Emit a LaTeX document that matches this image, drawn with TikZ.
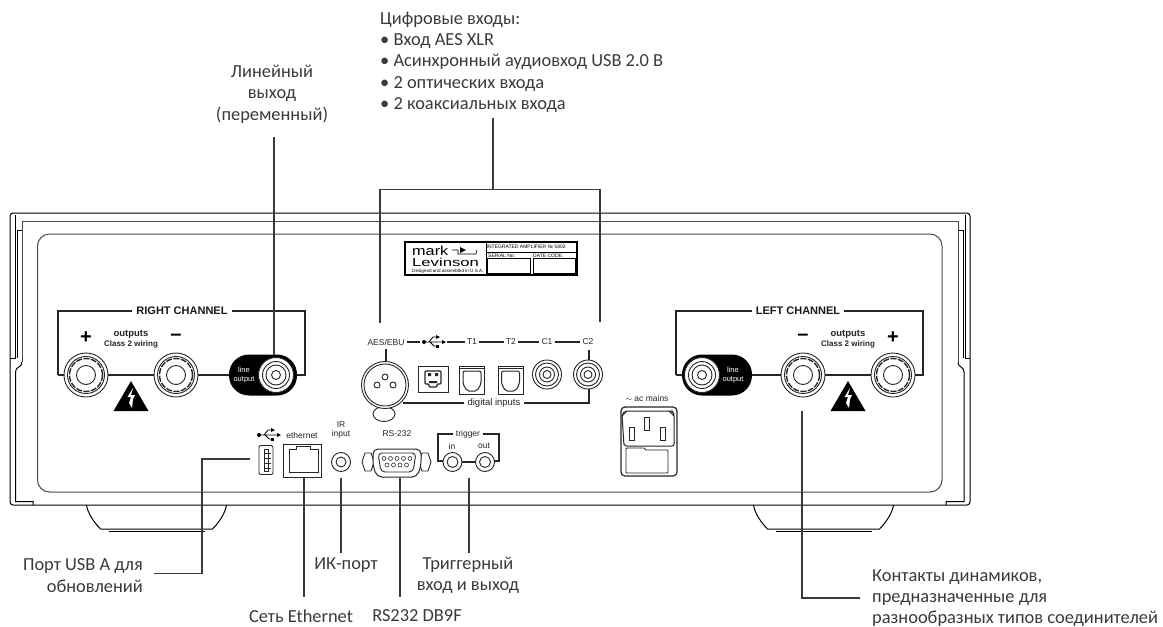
\documentclass[tikz,border=0pt]{standalone}
\usepackage{fontspec}
\setmainfont{Carlito}
\newfontfamily\panelfont{Liberation Sans}
\usetikzlibrary{arrows}
\usetikzlibrary{shapes}
\definecolor{calloutgray}{HTML}{3A3A3A}
\tikzset{
	call_t/.style = {align=center, inner sep=0pt, font=\fontsize{18.4}{21.3}\selectfont, text=calloutgray},
	call_l/.style = {call_t, align=left, anchor=west},
	call_r/.style = {call_t, align=right, anchor=east},
	call_c/.style = {draw=calloutgray, line width=1.2pt},
	body_l/.style = {draw=black, line width=1pt},
	body_g/.style = {draw=black!70, line width=1pt},
	pan_t/.style = {inner sep=0pt, align=center, font=\panelfont\fontsize{8.5}{8.5}\selectfont, text=black!85},
	pan_b/.style = {pan_t, font=\panelfont\bfseries\fontsize{11}{12}\selectfont, fill=white, inner xsep=4pt, text=black!90},
	pan_s/.style = {pan_t, font=\panelfont\bfseries\fontsize{8}{9.5}\selectfont},
	pan_w/.style = {pan_t, font=\panelfont\fontsize{7.5}{8.5}\selectfont, text=white},
	pan_f/.style = {draw=black!85, line width=1.2pt},
	sign_t/.style = {inner sep=0pt, font=\panelfont\bfseries\fontsize{20}{20}\selectfont},
	port_o/.style = {circle, draw=black!85, fill=white, line width=0.9pt, inner sep=0pt},
	port_b/.style = {rectangle, draw=black!85, fill=white, line width=0.9pt, inner sep=0pt}
}
\begin{document}
\begin{tikzpicture}[x=1pt,y=-1pt]
	\useasboundingbox (0,0) rectangle (1163,627);
	% feet
	\foreach \fx/\fs in {156.5/1,823.5/-1}{
		\draw[body_l,xshift=\fx pt,xscale=\fs] (-70,505) .. controls (-69,513) and (-62,523) .. (-56,529) -- (56,529) .. controls (62,523) and (69,513) .. (70,505);
		\draw[body_l,xshift=\fx pt,xscale=\fs] (-48,531) -- (48,531);
	}
	% chassis
	\draw[body_l,fill=white,rounded corners=3pt] (10,213) rectangle (970,505);
	\draw[body_g] (22,362) -- (22,221) -- (958,221) -- (958,362);
	\draw[body_l] (958,362) .. controls (958,368) and (964,366) .. (964,372) -- (964,501.5) -- (946,501.5) -- (946,505);
	\draw[body_l] (22,362) .. controls (22,368) and (15.5,366) .. (15.5,372) -- (15.5,501.5) -- (33,501.5) -- (33,505);
	\draw[body_l] (22,230) -- (17,230) -- (17,358);
	\draw[body_l] (958,230) -- (963,230) -- (963,358);
	\draw[body_l] (15,215) -- (15,358) -- (10,358);
	\draw[body_l] (965.5,215) -- (965.5,358) -- (970,358);
	\draw[body_g,rounded corners=12pt] (37.5,234) rectangle (942,492);
	% right channel
	\draw[pan_f] (58,375) -- (58,311) -- (305,311) -- (305,375) -- (58,375);
	\node[pan_b] (right_ch) at (182,311) {RIGHT CHANNEL};
	\node[pan_s] (out_r) at (131,339) {\fontsize{9.5}{11}\selectfont outputs\\Class 2 wiring};
	\node[sign_t] (plus_r) at (86,338) {+};
	\node[sign_t] (minus_r) at (176,337) {–};
	% left channel
	\draw[pan_f] (676,375) -- (676,311) -- (923,311) -- (923,375) -- (676,375);
	\node[pan_b] (left_ch) at (798,311) {LEFT CHANNEL};
	\node[pan_s] (out_l) at (848,339) {\fontsize{9.5}{11}\selectfont outputs\\Class 2 wiring};
	\node[sign_t] (plus_l) at (893,338) {+};
	\node[sign_t] (minus_l) at (803,337) {–};
	% binding posts
	\foreach \px/\pname in {86/post_ra,176/post_rb,803/post_la,893/post_lb}{
		\node[port_o,minimum size=44pt] (\pname) at (\px,375) {};
		\node[port_o,minimum size=37pt] at (\px,375) {};
		\node[port_o,minimum size=33pt,line width=1.4pt,dash pattern=on 6pt off 1.5pt] at (\px,375) {};
		\node[port_o,minimum size=19pt] at (\px,375) {};
	}
	% warning signs
	\foreach \wx in {131,848}{
		\fill[black] (\wx,381) -- (\wx+17.5,411) -- (\wx-17.5,411) -- cycle;
		\fill[white] (\wx+2,388) -- (\wx-3.5,397) -- (\wx,397) -- (\wx-2,403) -- (\wx+1,408) -- (\wx+2,399) -- (\wx+4,395) -- (\wx,395) -- cycle;
	}
	% line outputs
	\fill[black,rounded corners=20pt] (229,354.5) rectangle (297,395.5);
	\fill[black,rounded corners=20pt] (682,354.5) rectangle (752,395.5);
	\foreach \lx/\lname in {276/line_r,702/line_l}{
		\node[port_o,minimum size=35pt] (\lname) at (\lx,375) {};
		\node[port_o,minimum size=27pt] at (\lx,375) {};
		\node[port_o,minimum size=20pt] at (\lx,375) {};
		\node[port_o,minimum size=9pt] at (\lx,375) {};
	}
	\node[pan_w] (line_rt) at (244,375) {line\\output};
	\node[pan_w] (line_lt) at (733,375) {line\\output};
	% plate
	\draw[black,line width=1.2pt] (405,242) rectangle (577,275);
	\draw[black,line width=0.8pt] (486,242) -- (486,275) (486,252) -- (577,252);
	\draw[black,line width=0.7pt] (487,258.5) rectangle (530,273) (533,258.5) rectangle (575,273);
	\node[inner sep=0pt,anchor=west,font=\panelfont\fontsize{13}{13}\selectfont] (logo_a) at (412,251) {\scalebox{1.25}[1]{mark}};
	\node[inner sep=0pt,anchor=west,font=\panelfont\fontsize{11.5}{12}\selectfont] (logo_b) at (412,262.5) {\scalebox{1.45}[1]{Levinson}};
	\draw[black,line width=0.7pt] (452,250) -- (458,250) -- (458,254) -- (476,254) -- (477,250);
	\fill[black] (460,247) -- (466,250) -- (460,253) -- cycle;
	\node[inner sep=0pt,anchor=west,font=\panelfont\fontsize{4.6}{5}\selectfont] (logo_c) at (412,271) {Designed and assembled in U.S.A.};
	\node[inner sep=0pt,anchor=west,font=\panelfont\fontsize{5}{6}\selectfont] (plate_a) at (486.5,247) {INTEGRATED AMPLIFIER № 5802};
	\node[inner sep=0pt,anchor=west,font=\panelfont\fontsize{5}{6}\selectfont] (plate_b) at (488,255.5) {SERIAL No:};
	\node[inner sep=0pt,anchor=west,font=\panelfont\fontsize{5}{6}\selectfont] (plate_c) at (533,255.5) {DATE CODE:};
	% digital inputs
	\node[pan_t,fill=white,inner xsep=2pt] (aes_t) at (386,342) {AES/EBU};
	\node[pan_t,fill=white,inner xsep=2pt] (t1_t) at (472,342) {T1};
	\node[pan_t,fill=white,inner xsep=2pt] (t2_t) at (511,342) {T2};
	\node[pan_t,fill=white,inner xsep=2pt] (c1_t) at (547,342) {C1};
	\node[pan_t,fill=white,inner xsep=2pt] (c2_t) at (588,342) {C2};
	\coordinate (usb_l) at (420,342);
	\coordinate (usb_r) at (447,342);
	\draw[pan_f] (aes_t) -- (usb_l) (usb_r) -- (t1_t) (t1_t) -- (t2_t) (t2_t) -- (c1_t) (c1_t) -- (c2_t);
	% usb signs
	\foreach \ux/\uy in {421/342,256/435}{
		\begin{scope}[shift={(\ux,\uy)}]
			\fill[black] (3,0) circle[radius=2];
			\draw[black,line width=0.8pt] (3,0) -- (22,0) (8,0) -- (12,-5) -- (17,-5) (9,0) -- (13,4) -- (17,4);
			\fill[black] (21,-2) -- (25,0) -- (21,2) -- cycle;
			\fill[black] (15,-7) -- (19,-5) -- (15,-3) -- cycle;
			\fill[black] (15,2.5) rectangle (18,5.5);
		\end{scope}
	}
	\node[pan_t,fill=white,inner xsep=3pt] (dig_t) at (494,403) {\fontsize{9.5}{11}\selectfont digital inputs};
	\coordinate (dig_a) at (403,403);
	\coordinate (dig_b) at (589,403);
	\coordinate (dig_c) at (589,388);
	\draw[pan_f] (dig_a) -- (dig_t) -- (dig_b) -- (dig_c);
	\draw[pan_f] (386,349) -- (386,361);
	\draw[pan_f] (589,350) -- (589,360);
	\node[port_o,ellipse,minimum width=22pt,minimum height=15pt] (xlr_tab) at (384,414) {};
	\node[port_o,minimum size=47pt] (xlr) at (385,385) {};
	\node[port_o,minimum size=42pt] at (385,385) {};
	\foreach \qx/\qy in {385/377,377/385,393/385}{
		\node[port_o,minimum size=6pt] at (\qx,\qy) {};
	}
	\node[port_b,minimum width=30pt,minimum height=26pt] (usb_b) at (433,379) {};
	\draw[black!85,line width=1.1pt,rounded corners=1pt] (425,371) -- (441,371) -- (441,384) -- (437,384) -- (437,387) -- (429,387) -- (429,384) -- (425,384) -- cycle;
	\fill[black!85] (428,373) rectangle (431,376) (435,373) rectangle (438,376) (429,381) rectangle (437,383);
	\foreach \tx/\tname in {472/opt_a,510.5/opt_b}{
		\node[port_b,minimum width=25pt,minimum height=28pt] (\tname) at (\tx,380) {};
		\draw[black!85,line width=0.8pt] (\tx-12.5,368) -- (\tx+12.5,368);
		\draw[black!85,line width=1pt,rounded corners=2pt] (\tx-9,371) -- (\tx+9,371) -- (\tx+9,384) -- (\tx+5,391) -- (\tx-5,391) -- (\tx-9,384) -- cycle;
	}
	\foreach \rx/\rname in {547/rca_a,588/rca_b}{
		\node[port_o,minimum size=29pt] (\rname) at (\rx,374.5) {};
		\node[port_o,minimum size=23pt] at (\rx,374.5) {};
		\node[port_o,minimum size=15pt] at (\rx,374.5) {};
		\node[port_o,minimum size=8pt] at (\rx,374.5) {};
	}
	% lower ports
	\node[pan_t] (eth_t) at (302,435) {ethernet};
	\node[pan_t] (ir_t) at (341,430) {IR\\input};
	\node[pan_t] (rs_t) at (397,434) {RS-232};
	\node[port_b,rounded corners=2pt,minimum width=14pt,minimum height=29pt] (usb_a) at (266,460) {};
	\draw[black!85,line width=1pt] (264,449) rectangle (268,471);
	\foreach \uy in {453,458,463,468}{ \draw[black!85,line width=1pt] (264,\uy) -- (271,\uy); }
	\node[port_b,minimum width=38pt,minimum height=33pt] (eth) at (302.5,460.5) {};
	\draw[black!85,line width=0.8pt] (289,472) -- (289,449) -- (296,449) -- (296,446) -- (310,446) -- (310,449) -- (318,449) -- (318,472) -- cycle;
	\node[port_o,minimum size=19pt] (ir) at (341,462) {};
	\node[port_o,minimum size=10pt] at (341,462) {};
	\foreach \hx in {368,425}{
		\draw[black!85,line width=0.9pt] (\hx-3,453) -- (\hx+3,453) -- (\hx+6,462) -- (\hx+3,471) -- (\hx-3,471) -- (\hx-6,462) -- cycle;
	}
	\draw[black!85,fill=white,line width=1pt,rounded corners=5pt] (373,449) -- (421,449) -- (421,466) -- (417,477) -- (377,477) -- (373,466) -- cycle;
	\draw[black!85,line width=0.9pt,rounded corners=4pt] (378,453) -- (416,453) -- (413,472) -- (381,472) -- cycle;
	\foreach \sx in {384,390.5,397,403.5,410}{ \node[port_o,minimum size=4pt,line width=0.6pt] at (\sx,458.5) {}; }
	\foreach \sx in {387,393.5,400,406.5}{ \node[port_o,minimum size=4pt,line width=0.6pt] at (\sx,465) {}; }
	\node[pan_t,inner xsep=3pt] (trg_t) at (468,434) {trigger};
	\node[pan_t] (in_t) at (452,446) {in};
	\node[pan_t] (out_t) at (484,446) {out};
	\coordinate (trg_a) at (443,461);
	\coordinate (trg_b) at (438,461);
	\coordinate (trg_c) at (438,434);
	\coordinate (trg_d) at (499,434);
	\coordinate (trg_e) at (499,461);
	\coordinate (trg_f) at (494,461);
	\draw[pan_f] (trg_a) -- (trg_b) -- (trg_c) -- (trg_t) -- (trg_d) -- (trg_e) -- (trg_f);
	\node[port_o,minimum size=19pt] (trg_in) at (452.5,462) {};
	\node[port_o,minimum size=11pt] at (452.5,462) {};
	\node[port_o,minimum size=19pt] (trg_out) at (485,462) {};
	\node[port_o,minimum size=11pt] at (485,462) {};
	\draw[pan_f] (trg_in) -- (trg_out);
	% mains
	\node[pan_t] (ac_t) at (647,398) {$\sim$ ac mains};
	\node[port_b,rounded corners=4pt,line width=1.2pt,minimum width=56pt,minimum height=69pt] (ac) at (649,441.5) {};
	\draw[black!85,line width=1pt,rounded corners=2pt] (625,411) -- (672,411) -- (674,414) -- (674,446) -- (624,446) -- (622,414) -- cycle;
	\draw[black!85,line width=0.8pt] (622,416) -- (627,411) (674,416) -- (669,411);
	\draw[black!85,line width=0.9pt,rounded corners=1pt] (626,448) -- (645,448) -- (645,450) -- (668,450) -- (668,473) -- (626,473) -- cycle;
	\draw[black!85,line width=0.8pt] (629,427) rectangle (634,440) (644,417) rectangle (649,430) (660,427) rectangle (665,440);
	% callouts
	\node[call_l] (dig_cap) at (380,62) {Цифровые входы:\\• Вход AES XLR\\• Асинхронный аудиовход USB 2.0 В\\• 2 оптических входа\\• 2 коаксиальных входа};
	\node[call_t] (line_cap) at (272,94) {Линейный\\выход\\(переменный)};
	\node[call_r] (usb_cap) at (143,575.5) {Порт USB A для\\обновлений};
	\node[call_t] (eth_cap) at (301,616) {Сеть Ethernet};
	\node[call_t] (ir_cap) at (346,565) {ИК-порт};
	\node[call_t] (rs_cap) at (417,616) {RS232 DB9F};
	\node[call_t] (trg_cap) at (468,575.5) {Триггерный\\вход и выход};
	\node[call_l] (spk_cap) at (872,598) {Контакты динамиков,\\предназначенные для\\разнообразных типов соединителей};
	\coordinate (dig_top) at (493,118);
	\coordinate (dig_mid) at (493,189.5);
	\coordinate (dig_lt) at (380,189.5);
	\coordinate (dig_lb) at (380,323);
	\coordinate (dig_rt) at (600,189.5);
	\coordinate (dig_rb) at (600,322);
	\draw[call_c] (dig_top) -- (dig_mid) (dig_lb) -- (dig_lt) -- (dig_rt) -- (dig_rb);
	\coordinate (line_a) at (274,137);
	\coordinate (line_b) at (274,355);
	\draw[call_c] (line_a) -- (line_b);
	\coordinate (usb_c1) at (250,459);
	\coordinate (usb_c2) at (202,459);
	\coordinate (usb_c3) at (202,573.5);
	\coordinate (usb_c4) at (154,573.5);
	\draw[call_c] (usb_c1) -- (usb_c2) -- (usb_c3) -- (usb_c4);
	\coordinate (eth_a) at (304,478);
	\coordinate (eth_b) at (304,597);
	\draw[call_c] (eth_a) -- (eth_b);
	\coordinate (ir_a) at (341,478);
	\coordinate (ir_b) at (341,553);
	\draw[call_c] (ir_a) -- (ir_b);
	\coordinate (rs_a) at (400,478);
	\coordinate (rs_b) at (400,597);
	\draw[call_c] (rs_a) -- (rs_b);
	\coordinate (trg_g) at (469,478);
	\coordinate (trg_h) at (469,553);
	\draw[call_c] (trg_g) -- (trg_h);
	\coordinate (spk_a) at (802,411);
	\coordinate (spk_b) at (802,598);
	\coordinate (spk_c) at (860,598);
	\draw[call_c] (spk_a) -- (spk_b) -- (spk_c);
\end{tikzpicture}
\end{document}
